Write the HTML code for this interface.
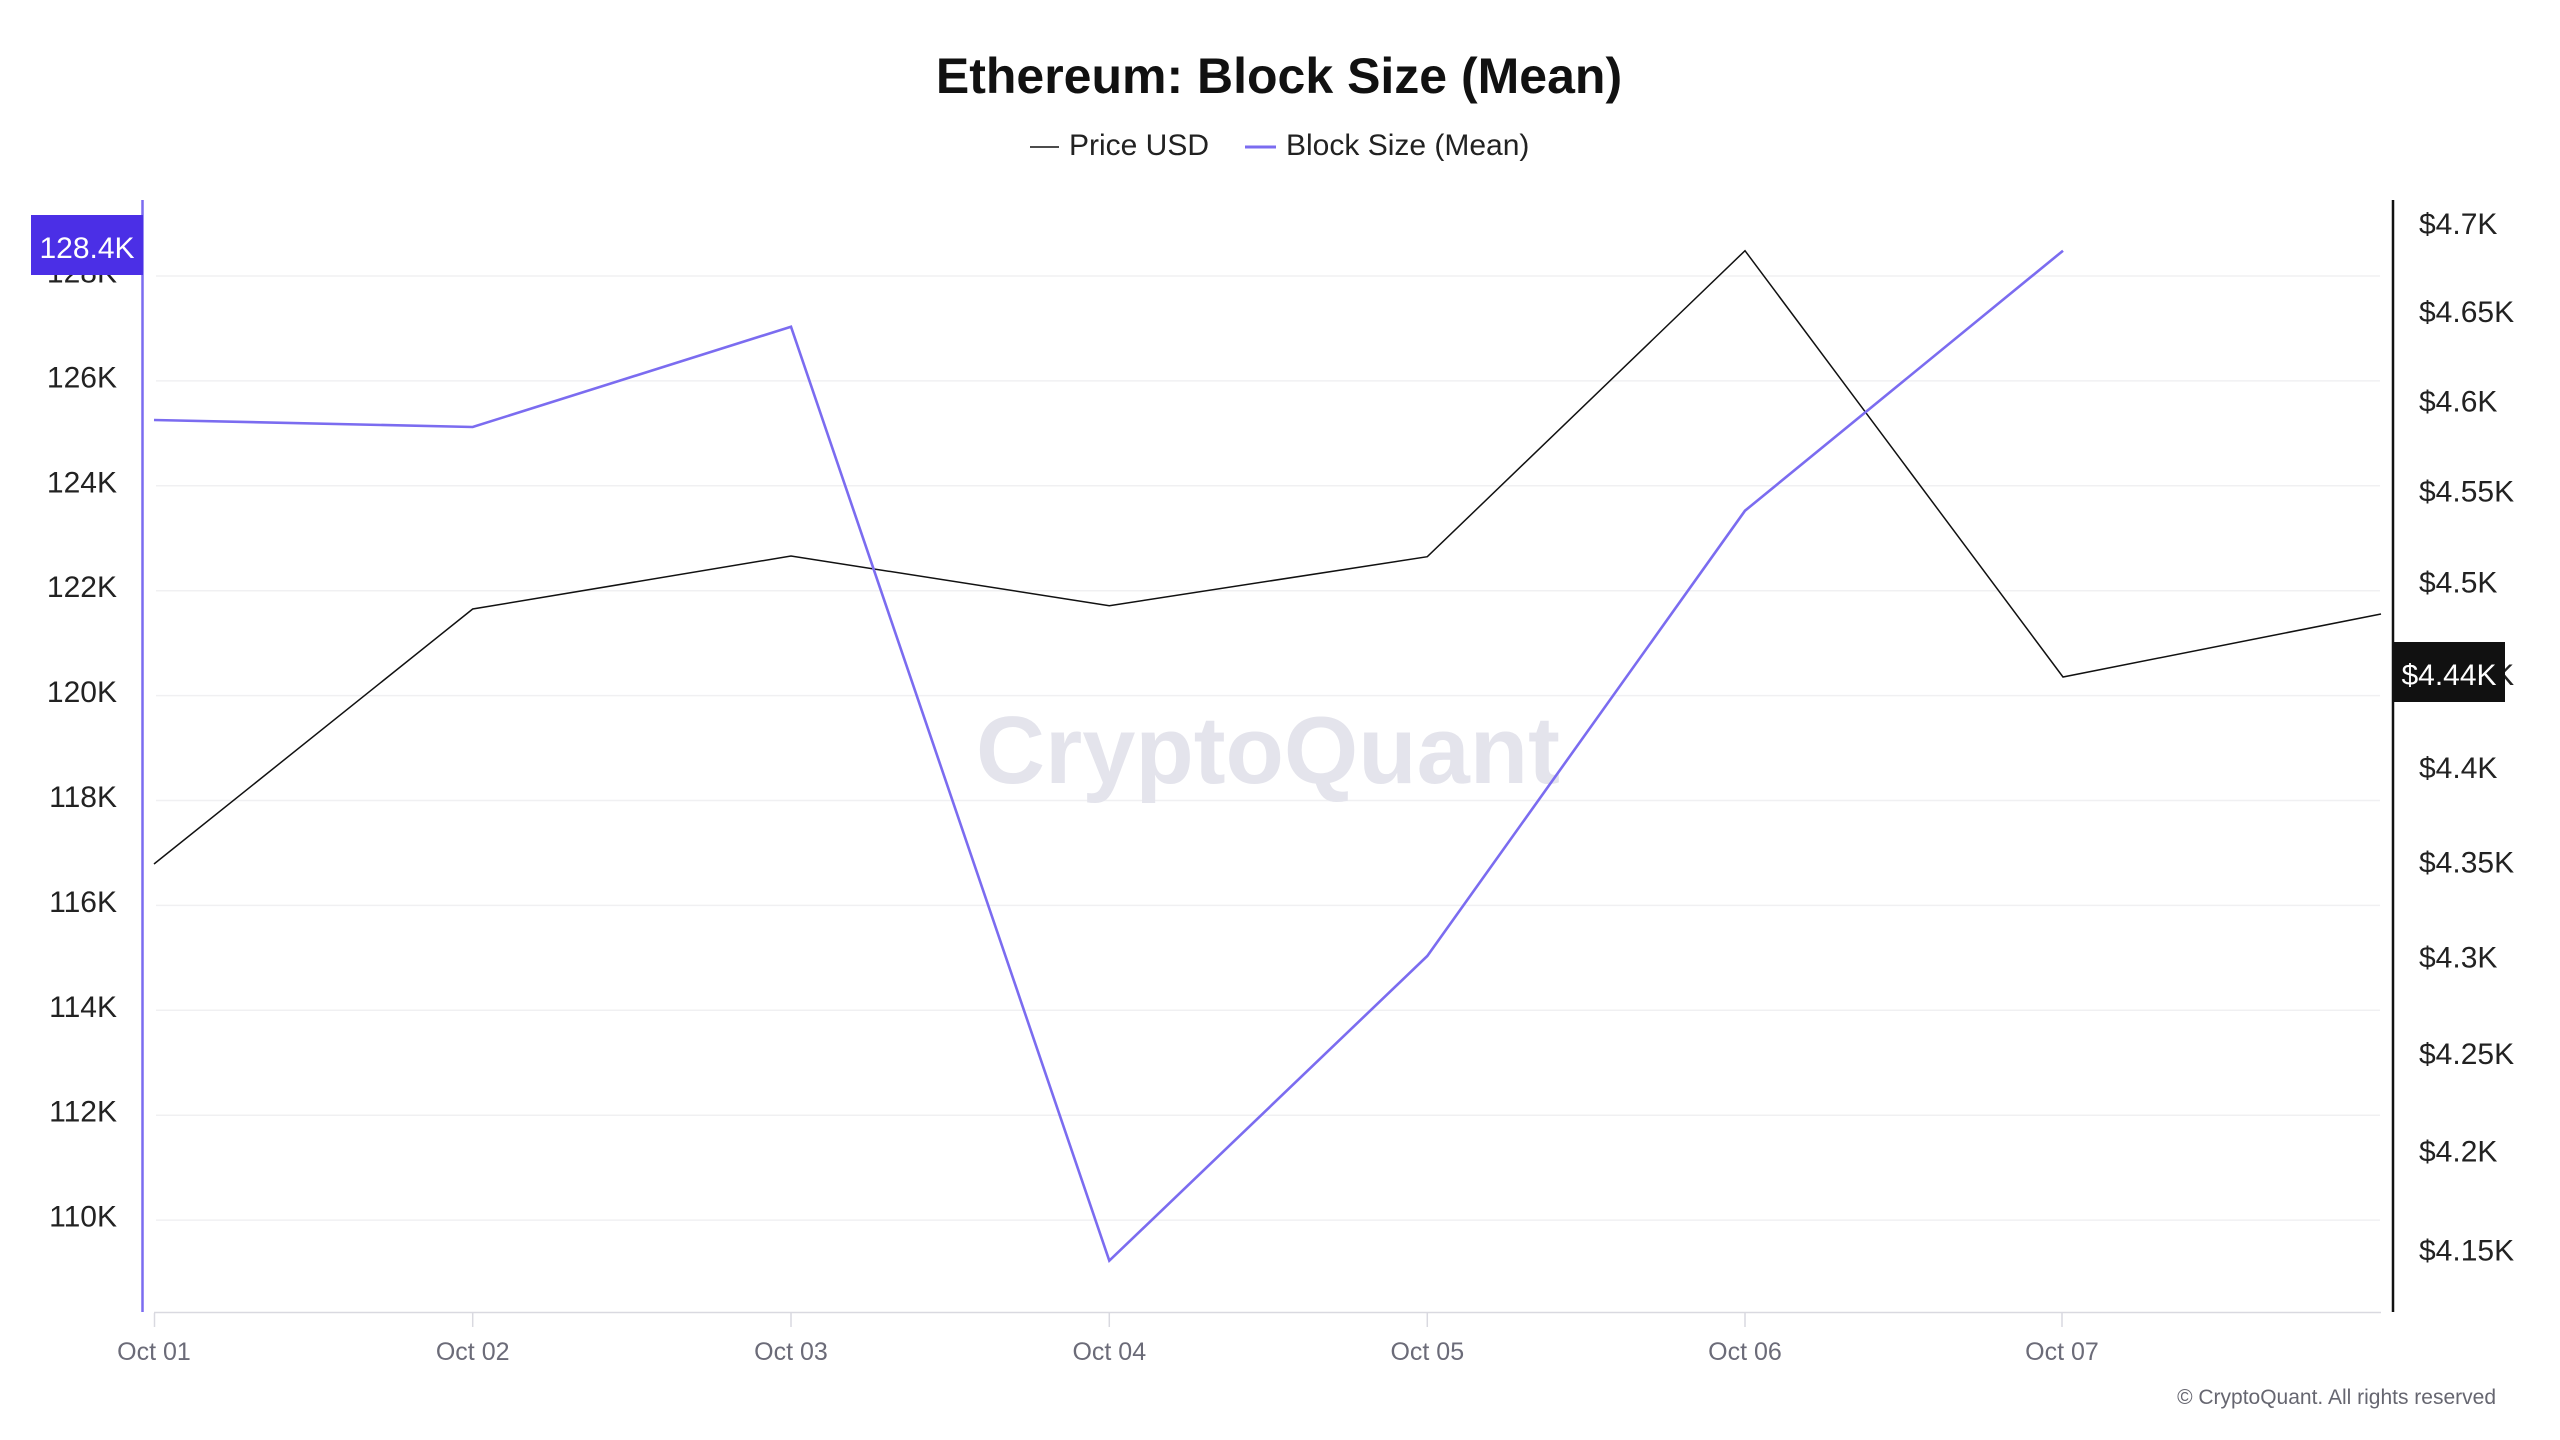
<!DOCTYPE html>
<html>
<head>
<meta charset="utf-8">
<style>
  html, body { margin:0; padding:0; background:#ffffff; }
  svg { display:block; }
  text { font-family: "Liberation Sans", "DejaVu Sans", sans-serif; }
</style>
</head>
<body>
<svg width="2560" height="1440" viewBox="0 0 2560 1440" xmlns="http://www.w3.org/2000/svg">
  <rect x="0" y="0" width="2560" height="1440" fill="#ffffff"/>

  <!-- Title -->
  <text x="1279" y="93" text-anchor="middle" font-size="50" font-weight="bold" fill="#111111">Ethereum: Block Size (Mean)</text>

  <!-- Legend -->
  <line x1="1030" y1="147" x2="1059" y2="147" stroke="#111111" stroke-width="1.6"/>
  <text x="1069" y="155" font-size="30" fill="#222222">Price USD</text>
  <line x1="1245" y1="147" x2="1276" y2="147" stroke="#7b6cf0" stroke-width="3"/>
  <text x="1286" y="155" font-size="30" fill="#222222">Block Size (Mean)</text>

  <!-- Gridlines -->
  <g stroke="#f0f0f2" stroke-width="1.5">
    <line x1="156" y1="276" x2="2380" y2="276"/>
    <line x1="156" y1="380.9" x2="2380" y2="380.9"/>
    <line x1="156" y1="485.8" x2="2380" y2="485.8"/>
    <line x1="156" y1="590.7" x2="2380" y2="590.7"/>
    <line x1="156" y1="695.6" x2="2380" y2="695.6"/>
    <line x1="156" y1="800.5" x2="2380" y2="800.5"/>
    <line x1="156" y1="905.4" x2="2380" y2="905.4"/>
    <line x1="156" y1="1010.3" x2="2380" y2="1010.3"/>
    <line x1="156" y1="1115.2" x2="2380" y2="1115.2"/>
    <line x1="156" y1="1220.1" x2="2380" y2="1220.1"/>
  </g>

  <!-- Watermark -->
  <text x="976" y="783" font-size="96" font-weight="bold" fill="#e4e4ec" textLength="584" lengthAdjust="spacingAndGlyphs">CryptoQuant</text>

  <!-- X axis -->
  <line x1="154" y1="1312.5" x2="2381" y2="1312.5" stroke="#d9d9e0" stroke-width="1.6"/>
  <g stroke="#d9d9e0" stroke-width="1.5">
    <line x1="154.5" y1="1313" x2="154.5" y2="1327"/>
    <line x1="472.7" y1="1313" x2="472.7" y2="1327"/>
    <line x1="791" y1="1313" x2="791" y2="1327"/>
    <line x1="1109.3" y1="1313" x2="1109.3" y2="1327"/>
    <line x1="1427.3" y1="1313" x2="1427.3" y2="1327"/>
    <line x1="1745" y1="1313" x2="1745" y2="1327"/>
    <line x1="2062" y1="1313" x2="2062" y2="1327"/>
  </g>
  <g font-size="25" fill="#6b6b78" text-anchor="middle">
    <text x="154" y="1360">Oct 01</text>
    <text x="472.7" y="1360">Oct 02</text>
    <text x="791" y="1360">Oct 03</text>
    <text x="1109.3" y="1360">Oct 04</text>
    <text x="1427.3" y="1360">Oct 05</text>
    <text x="1745" y="1360">Oct 06</text>
    <text x="2062" y="1360">Oct 07</text>
  </g>

  <!-- Left axis labels -->
  <g font-size="30" fill="#222222" text-anchor="end">
    <text x="117" y="282.5">128K</text>
    <text x="117" y="387.4">126K</text>
    <text x="117" y="492.3">124K</text>
    <text x="117" y="597.2">122K</text>
    <text x="117" y="702.1">120K</text>
    <text x="117" y="807">118K</text>
    <text x="117" y="911.9">116K</text>
    <text x="117" y="1016.8">114K</text>
    <text x="117" y="1121.7">112K</text>
    <text x="117" y="1226.6">110K</text>
  </g>

  <!-- Right axis labels (log scale) -->
  <g font-size="30" fill="#222222" text-anchor="start">
    <text x="2419" y="234">$4.7K</text>
    <text x="2419" y="322.2">$4.65K</text>
    <text x="2419" y="411.4">$4.6K</text>
    <text x="2419" y="501.5">$4.55K</text>
    <text x="2419" y="592.7">$4.5K</text>
    <text x="2419" y="684.8">$4.45K</text>
    <text x="2419" y="778">$4.4K</text>
    <text x="2419" y="872.3">$4.35K</text>
    <text x="2419" y="967.6">$4.3K</text>
    <text x="2419" y="1064">$4.25K</text>
    <text x="2419" y="1161.7">$4.2K</text>
    <text x="2419" y="1260.5">$4.15K</text>
  </g>

  <!-- Axis lines -->
  <line x1="142.5" y1="200" x2="142.5" y2="1312" stroke="#7b6cf0" stroke-width="2.5"/>
  <line x1="2393" y1="200" x2="2393" y2="1312" stroke="#111111" stroke-width="2.5"/>

  <!-- Price USD series -->
  <polyline fill="none" stroke="#111111" stroke-width="1.5" stroke-linejoin="miter"
    points="154,864 472.7,609 791,556 1109.3,605.7 1427.3,556.7 1745,250.7 2063,677 2381,614"/>

  <!-- Block Size series -->
  <polyline fill="none" stroke="#7b6cf0" stroke-width="2.6" stroke-linejoin="miter"
    points="154,420 472.7,427 791,326.7 1109.3,1260.7 1427.3,956 1745,510.7 2063,250.7"/>

  <!-- Left current value box -->
  <rect x="31" y="215" width="112" height="60" fill="#4b2fe6"/>
  <text x="87" y="258" font-size="30" fill="#ffffff" text-anchor="middle">128.4K</text>

  <!-- Right current value box -->
  <rect x="2394" y="642" width="111" height="60" fill="#111111"/>
  <text x="2449" y="685" font-size="30" fill="#ffffff" text-anchor="middle">$4.44K</text>

  <!-- Copyright -->
  <text x="2496" y="1404" font-size="21" fill="#666670" text-anchor="end">© CryptoQuant. All rights reserved</text>
</svg>
</body>
</html>
